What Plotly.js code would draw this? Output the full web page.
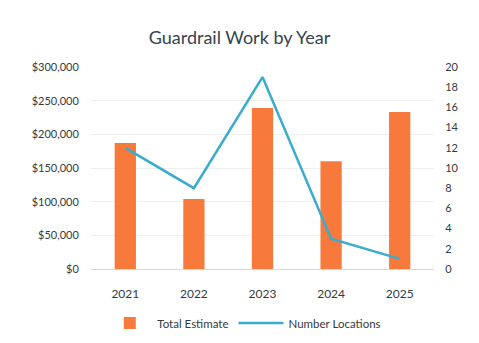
<!DOCTYPE html>
<html>
<head>
<meta charset="utf-8">
<script src="https://cdn.plot.ly/plotly-3.0.1.min.js"></script>
<style>html,body{margin:0;padding:0;background:#fff;}#chart{width:479px;height:343px;}</style>
</head>
<body>
<div id="chart"></div>
<script>
const years = ["2021", "2022", "2023", "2024", "2025"];
const totalEstimate = [187000, 104000, 239000, 160000, 233000];
const numberLocations = [12, 8, 19, 3, 1];
const leftTicks = [0, 50000, 100000, 150000, 200000, 250000, 300000];
const leftTickLabels = ["$0", "$50,000", "$100,000", "$150,000", "$200,000", "$250,000", "$300,000"];
const rightTicks = [0, 2, 4, 6, 8, 10, 12, 14, 16, 18, 20];

const font = "Lato, 'Open Sans', sans-serif";
const data = [
  {type: "bar", x: years, y: totalEstimate, name: "Total Estimate",
   marker: {color: "#f77a3c"}, yaxis: "y"},
  {type: "scatter", mode: "lines", x: years, y: numberLocations, name: "Number Locations",
   line: {color: "#3aaccd", width: 2.5}, yaxis: "y2"}
];
const layout = {
  width: 479, height: 343,
  margin: {l: 91, r: 45, t: 67, b: 74, autoexpand: false},
  paper_bgcolor: "#fff", plot_bgcolor: "#fff",
  font: {family: font, color: "#333a40", size: 11},
  title: {text: "Guardrail Work by Year", x: 0.5, xanchor: "center", y: 0.889, yanchor: "middle",
          font: {family: font, size: 18, color: "#34444f"}},
  bargap: 0.69,
  showlegend: true,
  legend: {orientation: "h", x: 0.51, xanchor: "center", xref: "container",
           y: 0.058, yanchor: "middle", yref: "container",
           font: {family: font, size: 11.5, color: "#333a40"}, itemwidth: 45},
  xaxis: {type: "category", showgrid: false, zeroline: false, showline: true,
          linecolor: "#d9d9d9", linewidth: 1, ticks: "outside", ticklen: 14,
          tickcolor: "rgba(0,0,0,0)", tickfont: {size: 12}},
  yaxis: {range: [0, 300000], tickvals: leftTicks, ticktext: leftTickLabels,
          showgrid: true, gridcolor: "#eeeeee", zeroline: false, showline: false,
          ticks: "outside", ticklen: 9, tickcolor: "rgba(0,0,0,0)", tickfont: {size: 11}},
  yaxis2: {overlaying: "y", side: "right", range: [0, 20], tickvals: rightTicks,
           showgrid: false, zeroline: false, showline: false, ticks: "outside", ticklen: 8,
           tickcolor: "rgba(0,0,0,0)", tickfont: {size: 11}}
};
Plotly.newPlot("chart", data, layout, {displayModeBar: false, staticPlot: true});
</script>
</body>
</html>
